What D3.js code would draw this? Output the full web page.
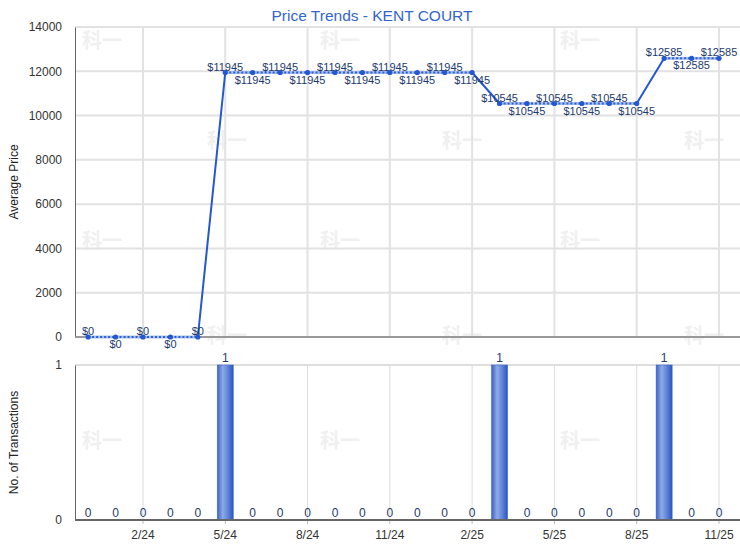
<!DOCTYPE html>
<html>
<head>
<meta charset="utf-8">
<script src="https://cdn.jsdelivr.net/npm/d3@7"></script>
<style>
  html, body { margin: 0; padding: 0; background: #fff; }
  svg { display: block; font-family: "Liberation Sans", Arial, sans-serif; }
</style>
</head>
<body>
<svg id="chart" width="740" height="550"></svg>
<script>
// ---- data ----
const months = ["2023-12","2024-01","2024-02","2024-03","2024-04","2024-05","2024-06","2024-07",
  "2024-08","2024-09","2024-10","2024-11","2024-12","2025-01","2025-02","2025-03","2025-04",
  "2025-05","2025-06","2025-07","2025-08","2025-09","2025-10","2025-11"];
const avgPrice = [0,0,0,0,0,11945,11945,11945,11945,11945,11945,11945,11945,11945,11945,
  10545,10545,10545,10545,10545,10545,12585,12585,12585];
const transactions = [0,0,0,0,0,1,0,0,0,0,0,0,0,0,0,1,0,0,0,0,0,1,0,0];
const tickMonths = ["2024-02","2024-05","2024-08","2024-11","2025-02","2025-05","2025-08","2025-11"];
const tickLabels = ["2/24","5/24","8/24","11/24","2/25","5/25","8/25","11/25"];
const priceTicks = [0,2000,4000,6000,8000,10000,12000,14000];
const txTicks = [0,1];
const title = "Price Trends - KENT COURT";

// ---- layout ----
const svg = d3.select("#chart");
const left = 75, right = 740;
const top1 = 27, bot1 = 337, top2 = 365, bot2 = 520;

const x = d3.scaleBand().domain(months).range([74.4, 732.7]).padding(0);
const cx = m => x(m) + x.bandwidth() / 2;
const yP = d3.scaleLinear().domain([0, 14000]).range([bot1, top1]);
const yT = d3.scaleLinear().domain([0, 1]).range([bot2, top2]);

// gradient for bars
const defs = svg.append("defs");
const grad = defs.append("linearGradient").attr("id", "barGrad")
  .attr("x1", "0%").attr("x2", "100%").attr("y1", "0%").attr("y2", "0%");
grad.append("stop").attr("offset", "0%").attr("stop-color", "#3d63c4");
grad.append("stop").attr("offset", "35%").attr("stop-color", "#8eaae6");
grad.append("stop").attr("offset", "70%").attr("stop-color", "#5a7fd6");
grad.append("stop").attr("offset", "100%").attr("stop-color", "#2a55c2");

// watermark
const wm = svg.append("g").attr("fill", "#f0f0f0").attr("font-family", "'Noto Sans CJK SC', sans-serif")
  .attr("font-weight", "bold").attr("font-size", 20);
for (let r = 0; r < 5; r++) {
  const cols = r % 2 === 0 ? [82, 320, 560] : [207, 442, 684];
  const yy = 48 + r * 100 - (r === 3 ? 5 : 0);
  cols.forEach(c => wm.append("text").attr("x", c).attr("y", yy).text("科一"));
}

// ---- top panel grid ----
const g1 = svg.append("g");
g1.selectAll(".hg").data(priceTicks.filter(d => d > 0)).join("line")
  .attr("x1", left).attr("x2", right).attr("y1", d => yP(d)).attr("y2", d => yP(d))
  .attr("stroke", "#e2e2e2").attr("stroke-width", 2);
g1.selectAll(".vg").data(tickMonths).join("line")
  .attr("x1", d => cx(d)).attr("x2", d => cx(d)).attr("y1", top1).attr("y2", bot1)
  .attr("stroke", "#e2e2e2").attr("stroke-width", 2);

// y axis top
const yAxis1 = d3.axisLeft(yP).tickValues(priceTicks).tickSize(0).tickPadding(13).tickFormat(d3.format("d"));
const ya1 = svg.append("g").attr("transform", `translate(${left},0)`).call(yAxis1);
ya1.select(".domain").attr("stroke", "#666");
ya1.selectAll("text").attr("font-size", 12).attr("fill", "#333").attr("font-family", "'Liberation Sans', Arial, sans-serif");
svg.append("line").attr("x1", left).attr("x2", right).attr("y1", bot1).attr("y2", bot1)
  .attr("stroke", "#999").attr("stroke-width", 2);

// ---- line ----
const lineG = svg.append("g");
for (let i = 0; i < months.length - 1; i++) {
  const a = [cx(months[i]), yP(avgPrice[i])], b = [cx(months[i + 1]), yP(avgPrice[i + 1])];
  if (avgPrice[i] === avgPrice[i + 1]) {
    lineG.append("line").attr("x1", a[0]).attr("y1", a[1]).attr("x2", b[0]).attr("y2", b[1])
      .attr("stroke", "#a8bff0").attr("stroke-width", 3);
    lineG.append("line").attr("x1", a[0]).attr("y1", a[1]).attr("x2", b[0]).attr("y2", b[1])
      .attr("stroke", "#2f60d4").attr("stroke-width", 2).attr("stroke-dasharray", "2,2");
  } else {
    lineG.append("line").attr("x1", a[0]).attr("y1", a[1]).attr("x2", b[0]).attr("y2", b[1])
      .attr("stroke", "#2458d0").attr("stroke-width", 2);
  }
}
lineG.selectAll("circle").data(months).join("circle")
  .attr("cx", d => cx(d)).attr("cy", (d, i) => yP(avgPrice[i])).attr("r", 2.6).attr("fill", "#2458d0");

// labels alternating within constant runs
let runIdx = 0;
const labelPos = avgPrice.map((v, i) => {
  if (i > 0 && v === avgPrice[i - 1]) runIdx++; else runIdx = 0;
  return runIdx % 2 === 0 ? "above" : "below";
});
svg.append("g").selectAll("text").data(months).join("text")
  .attr("x", d => cx(d))
  .attr("y", (d, i) => yP(avgPrice[i]) + (labelPos[i] === "above" ? -2 : 11))
  .attr("text-anchor", "middle").attr("font-size", 11).attr("fill", "#1d3a6c")
  .text((d, i) => "$" + avgPrice[i]);

// ---- bottom panel ----
const g2 = svg.append("g");
g2.append("line").attr("x1", left).attr("x2", right).attr("y1", yT(1)).attr("y2", yT(1))
  .attr("stroke", "#dedede").attr("stroke-width", 2);
g2.selectAll(".vg").data(tickMonths).join("line")
  .attr("x1", d => cx(d)).attr("x2", d => cx(d)).attr("y1", top2).attr("y2", bot2)
  .attr("stroke", "#dcdcdc").attr("stroke-width", 1);

const yAxis2 = d3.axisLeft(yT).tickValues(txTicks).tickSize(0).tickPadding(13).tickFormat(d3.format("d"));
const ya2 = svg.append("g").attr("transform", `translate(${left},0)`).call(yAxis2);
ya2.select(".domain").attr("stroke", "#666");
ya2.selectAll("text").attr("font-size", 12).attr("fill", "#333").attr("font-family", "'Liberation Sans', Arial, sans-serif");

// bars
const bw = 16;
svg.append("g").selectAll("rect").data(months.filter((m, i) => transactions[i] > 0)).join("rect")
  .attr("x", d => cx(d) - bw / 2).attr("width", bw)
  .attr("y", d => yT(transactions[months.indexOf(d)]))
  .attr("height", d => bot2 - yT(transactions[months.indexOf(d)]))
  .attr("fill", "url(#barGrad)").attr("stroke", "#3a66cc").attr("stroke-width", 0.6);

// bar labels
svg.append("g").selectAll("text").data(months).join("text")
  .attr("x", d => cx(d))
  .attr("y", (d, i) => transactions[i] > 0 ? yT(transactions[i]) - 3 : bot2 - 3)
  .attr("text-anchor", "middle").attr("font-size", 12).attr("fill", "#1d3a6c")
  .text((d, i) => transactions[i]);

// x axis
const xAxis = d3.axisBottom(x).tickValues(tickMonths).tickSize(4).tickPadding(6)
  .tickFormat(d => tickLabels[tickMonths.indexOf(d)]);
const xa = svg.append("g").attr("transform", `translate(0,${bot2})`).call(xAxis);
xa.select(".domain").remove();
xa.selectAll(".tick line").attr("stroke", "#bbb");
xa.selectAll("text").attr("font-size", 12).attr("fill", "#333").attr("font-family", "'Liberation Sans', Arial, sans-serif");
svg.append("line").attr("x1", left).attr("x2", right).attr("y1", bot2).attr("y2", bot2)
  .attr("stroke", "#666").attr("stroke-width", 2);

// titles
svg.append("text").attr("x", 372).attr("y", 21).attr("text-anchor", "middle")
  .attr("font-size", 15.5).attr("fill", "#3366cc").text(title);
svg.append("text").attr("transform", `translate(18,${(top1 + bot1) / 2}) rotate(-90)`)
  .attr("text-anchor", "middle").attr("font-size", 12).attr("fill", "#222").text("Average Price");
svg.append("text").attr("transform", `translate(18,${(top2 + bot2) / 2}) rotate(-90)`)
  .attr("text-anchor", "middle").attr("font-size", 12).attr("fill", "#222").text("No. of Transactions");
</script>
</body>
</html>
